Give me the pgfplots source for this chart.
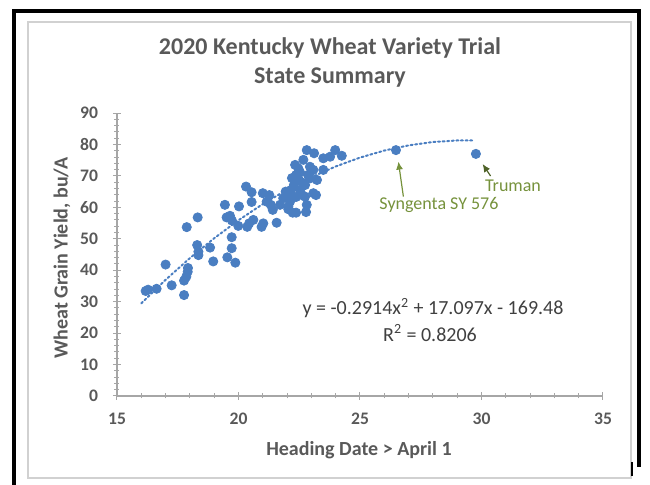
\documentclass[border=0pt]{standalone}
\usepackage{pgfplots}
\pgfplotsset{compat=1.18}
\usetikzlibrary{arrows.meta}
\usepackage{fontspec}
\setmainfont{Carlito}
\definecolor{ptblue}{RGB}{74,126,193}
\definecolor{txtgray}{RGB}{89,89,89}
\definecolor{eqgray}{RGB}{64,64,64}
\definecolor{axgray}{RGB}{166,166,166}
\definecolor{olivegreen}{RGB}{118,146,60}
\definecolor{darkolive}{RGB}{79,98,40}
\pgfplotstableread{
x y
16.18 33.4
16.28 33.8
16.63 34.1
17.00 41.8
17.25 35.2
17.76 32.1
17.76 36.7
17.85 37.9
17.91 39.5
17.92 40.7
17.87 53.7
18.32 56.8
18.30 48.0
18.35 45.9
18.35 44.8
18.83 47.2
18.96 42.8
19.44 60.8
19.51 56.8
19.65 57.3
19.73 55.8
19.99 54.1
19.72 50.5
19.72 47.0
19.54 44.1
19.87 42.4
20.02 60.3
20.31 66.6
20.54 64.8
20.54 61.7
20.36 53.8
20.44 54.9
20.61 56.0
20.95 53.8
21.02 54.9
21.00 64.5
21.27 63.9
21.16 61.8
21.33 60.8
21.41 59.2
21.57 55.1
21.71 60.8
21.84 62.9
21.94 65.0
22.05 60.2
22.12 61.8
22.05 59.4
22.23 58.3
22.37 58.3
22.33 73.5
22.46 72.4
22.67 75.1
22.81 78.2
23.11 77.2
22.94 72.9
23.08 71.9
22.94 69.2
22.67 67.7
22.53 65.5
22.74 63.4
22.81 60.8
23.08 64.5
23.49 75.6
23.77 76.1
23.98 78.2
24.25 76.4
23.49 71.9
22.20 69.3
22.37 70.3
22.49 68.7
22.28 67.1
22.16 65.5
22.53 71.2
22.74 67.1
22.86 70.3
22.61 63.9
22.37 63.3
22.12 63.6
23.23 68.7
23.19 63.9
22.78 58.5
26.48 78.2
29.77 77.0
}\scatterdata
\pgfplotstableread{
x y
16.0 29.47
17.0 36.95
18.0 43.85
19.0 50.17
20.0 55.90
21.0 61.05
22.0 65.62
23.0 69.60
24.0 73.00
25.0 75.82
26.0 78.06
27.0 79.71
28.0 80.78
29.0 81.27
29.7 81.26
}\trenddata
\begin{document}
\begin{tikzpicture}
\useasboundingbox (0,0) rectangle (325pt,-242.5pt);
\draw[line width=1.6pt] (7pt,-245pt) -- (7pt,-5.5pt) -- (319.5pt,-5.5pt) -- (319.5pt,-233.5pt);
\draw[black!18, line width=0.6pt] (14pt,-11pt) rectangle (315.5pt,-239pt);
\draw[line width=0.8pt] (316pt,-231pt) -- (316pt,-238pt);
\node[font=\bfseries\fontsize{12}{14}\selectfont, text=txtgray] at (165pt,-24pt) {2020 Kentucky Wheat Variety Trial};
\node[font=\bfseries\fontsize{12}{14}\selectfont, text=txtgray] at (165pt,-39pt) {State Summary};
\begin{axis}[
  at={(58.5pt,-198pt)}, anchor=south west,
  scale only axis, width=243pt, height=141.5pt,
  xmin=15, xmax=35, ymin=0, ymax=90,
  xtick={15,20,...,35}, ytick={0,10,...,90},
  minor x tick num=4, minor y tick num=4,
  axis lines*=left,
  axis line style={axgray, line width=0.6pt},
  tick style={axgray, line width=0.5pt},
  tick align=center,
  major tick length=4pt, minor tick length=2.5pt,
  /pgf/number format/assume math mode=true,
  ticklabel style={font=\bfseries\fontsize{8.8}{10}\selectfont, text=txtgray},
  xticklabel style={yshift=-3pt},
  yticklabel style={xshift=-4pt},
  clip=false,
]
\addplot[ptblue, line width=1pt, dash pattern=on 1pt off 1.3pt, line cap=round] table[x=x,y=y] {\trenddata};
\addplot[only marks, mark=*, mark size=2.3pt, mark options={fill=ptblue, draw=ptblue}] table[x=x,y=y] {\scatterdata};
\end{axis}
\node[font=\bfseries\fontsize{10}{12}\selectfont, text=txtgray] at (179.5pt,-225pt) {Heading Date > April 1};
\node[font=\bfseries\fontsize{10}{12}\selectfont, text=txtgray, rotate=90] at (31pt,-129pt) {Wheat Grain Yield, bu/A};
\node[font=\fontsize{10}{12}\selectfont, text=eqgray] at (216.5pt,-154pt) {y = -0.2914x\textsuperscript{2} + 17.097x - 169.48};
\node[font=\fontsize{10}{12}\selectfont, text=eqgray] at (215pt,-166.5pt) {R\textsuperscript{2} = 0.8206};
\node[font=\fontsize{9}{11}\selectfont, text=olivegreen] at (219.5pt,-102.5pt) {Syngenta SY 576};
\node[font=\fontsize{9}{11}\selectfont, text=olivegreen] at (256.5pt,-93pt) {Truman};
\draw[olivegreen, line width=0.6pt, -{Latex[length=4pt,width=3.5pt]}] (201.7pt,-98.3pt) -- (199.2pt,-80.8pt);
\draw[darkolive, line width=0.6pt, -{Latex[length=4pt,width=3.5pt]}] (245.3pt,-88pt) -- (241.3pt,-82pt);
\end{tikzpicture}
\end{document}
